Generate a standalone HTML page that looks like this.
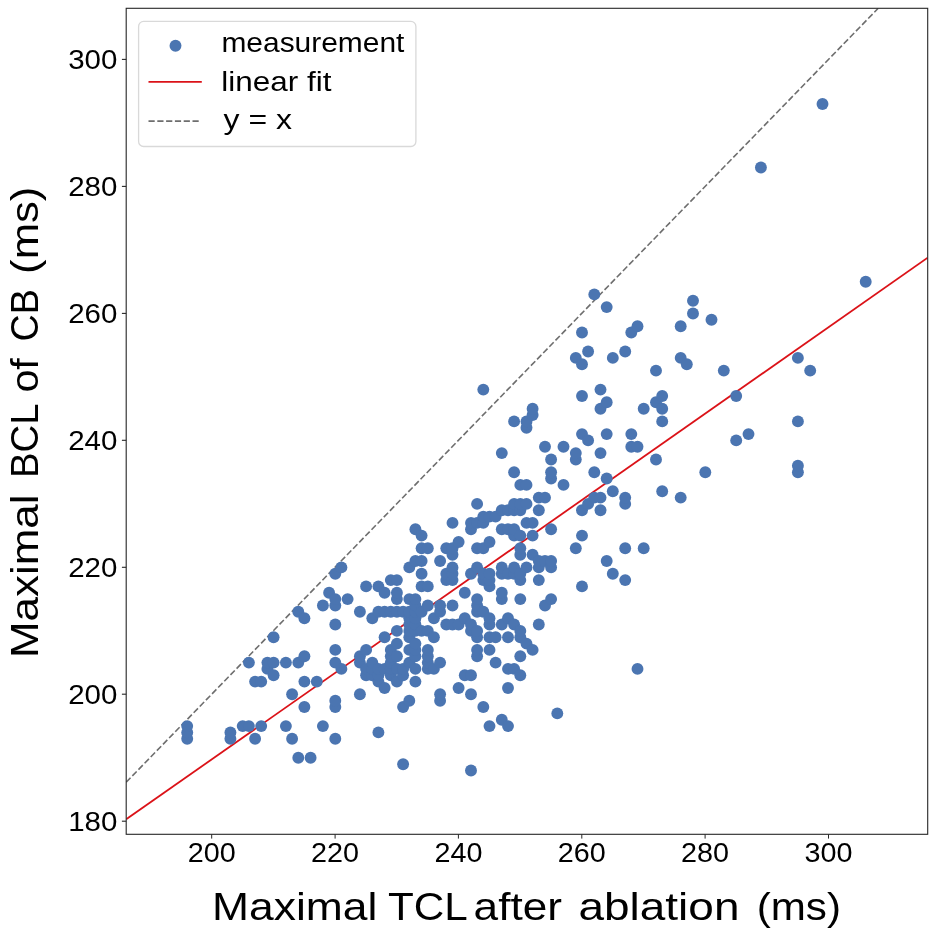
<!DOCTYPE html>
<html><head><meta charset="utf-8"><title>Scatter</title>
<style>html,body{margin:0;padding:0;background:#fff;}svg{display:block;will-change:transform;}text{font-family:"Liberation Sans",sans-serif;fill:#000;}</style>
</head><body>
<svg width="935" height="929" viewBox="0 0 935 929">
<rect x="0" y="0" width="935" height="929" fill="#ffffff"/>
<defs><clipPath id="ax"><rect x="126.2" y="8.3" width="801.5" height="826.0"/></clipPath></defs>
<g clip-path="url(#ax)">
<line x1="126.2" y1="819.3" x2="927.7" y2="257.7" stroke="#db1218" stroke-width="1.8"/>
<line x1="126.2" y1="782.2" x2="878.2" y2="8.3" stroke="#6e6e6e" stroke-width="1.6" stroke-dasharray="6.2 2.6"/>
<g fill="#4b75b1">
<circle cx="187.2" cy="738.8" r="5.95"/>
<circle cx="187.2" cy="732.4" r="5.95"/>
<circle cx="187.2" cy="726.1" r="5.95"/>
<circle cx="230.4" cy="738.8" r="5.95"/>
<circle cx="230.4" cy="732.4" r="5.95"/>
<circle cx="242.7" cy="726.1" r="5.95"/>
<circle cx="248.9" cy="726.1" r="5.95"/>
<circle cx="248.9" cy="662.6" r="5.95"/>
<circle cx="255.1" cy="738.8" r="5.95"/>
<circle cx="255.1" cy="681.6" r="5.95"/>
<circle cx="261.2" cy="726.1" r="5.95"/>
<circle cx="261.2" cy="681.6" r="5.95"/>
<circle cx="267.4" cy="668.9" r="5.95"/>
<circle cx="267.4" cy="662.6" r="5.95"/>
<circle cx="273.6" cy="675.3" r="5.95"/>
<circle cx="273.6" cy="662.6" r="5.95"/>
<circle cx="273.6" cy="637.2" r="5.95"/>
<circle cx="285.9" cy="726.1" r="5.95"/>
<circle cx="285.9" cy="662.6" r="5.95"/>
<circle cx="292.1" cy="738.8" r="5.95"/>
<circle cx="292.1" cy="694.3" r="5.95"/>
<circle cx="298.3" cy="757.8" r="5.95"/>
<circle cx="298.3" cy="662.6" r="5.95"/>
<circle cx="298.3" cy="611.8" r="5.95"/>
<circle cx="304.4" cy="707.0" r="5.95"/>
<circle cx="304.4" cy="681.6" r="5.95"/>
<circle cx="304.4" cy="656.3" r="5.95"/>
<circle cx="304.4" cy="618.2" r="5.95"/>
<circle cx="310.6" cy="757.8" r="5.95"/>
<circle cx="316.8" cy="681.6" r="5.95"/>
<circle cx="322.9" cy="726.1" r="5.95"/>
<circle cx="322.9" cy="605.5" r="5.95"/>
<circle cx="329.1" cy="592.8" r="5.95"/>
<circle cx="335.3" cy="738.8" r="5.95"/>
<circle cx="335.3" cy="707.0" r="5.95"/>
<circle cx="335.3" cy="700.7" r="5.95"/>
<circle cx="335.3" cy="662.6" r="5.95"/>
<circle cx="335.3" cy="649.9" r="5.95"/>
<circle cx="335.3" cy="624.5" r="5.95"/>
<circle cx="335.3" cy="605.5" r="5.95"/>
<circle cx="335.3" cy="599.1" r="5.95"/>
<circle cx="335.3" cy="573.7" r="5.95"/>
<circle cx="341.4" cy="668.9" r="5.95"/>
<circle cx="341.4" cy="567.4" r="5.95"/>
<circle cx="347.6" cy="599.1" r="5.95"/>
<circle cx="359.9" cy="694.3" r="5.95"/>
<circle cx="359.9" cy="662.6" r="5.95"/>
<circle cx="359.9" cy="656.3" r="5.95"/>
<circle cx="359.9" cy="611.8" r="5.95"/>
<circle cx="366.1" cy="675.3" r="5.95"/>
<circle cx="366.1" cy="668.9" r="5.95"/>
<circle cx="366.1" cy="649.9" r="5.95"/>
<circle cx="366.1" cy="586.4" r="5.95"/>
<circle cx="372.3" cy="675.3" r="5.95"/>
<circle cx="372.3" cy="668.9" r="5.95"/>
<circle cx="372.3" cy="662.6" r="5.95"/>
<circle cx="372.3" cy="618.2" r="5.95"/>
<circle cx="378.4" cy="732.4" r="5.95"/>
<circle cx="378.4" cy="681.6" r="5.95"/>
<circle cx="378.4" cy="675.3" r="5.95"/>
<circle cx="378.4" cy="668.9" r="5.95"/>
<circle cx="378.4" cy="611.8" r="5.95"/>
<circle cx="378.4" cy="586.4" r="5.95"/>
<circle cx="384.6" cy="688.0" r="5.95"/>
<circle cx="384.6" cy="668.9" r="5.95"/>
<circle cx="384.6" cy="637.2" r="5.95"/>
<circle cx="384.6" cy="611.8" r="5.95"/>
<circle cx="384.6" cy="592.8" r="5.95"/>
<circle cx="390.8" cy="675.3" r="5.95"/>
<circle cx="390.8" cy="668.9" r="5.95"/>
<circle cx="390.8" cy="662.6" r="5.95"/>
<circle cx="390.8" cy="656.3" r="5.95"/>
<circle cx="390.8" cy="649.9" r="5.95"/>
<circle cx="390.8" cy="611.8" r="5.95"/>
<circle cx="390.8" cy="580.1" r="5.95"/>
<circle cx="396.9" cy="681.6" r="5.95"/>
<circle cx="396.9" cy="668.9" r="5.95"/>
<circle cx="396.9" cy="656.3" r="5.95"/>
<circle cx="396.9" cy="643.6" r="5.95"/>
<circle cx="396.9" cy="630.9" r="5.95"/>
<circle cx="396.9" cy="611.8" r="5.95"/>
<circle cx="396.9" cy="599.1" r="5.95"/>
<circle cx="396.9" cy="592.8" r="5.95"/>
<circle cx="396.9" cy="580.1" r="5.95"/>
<circle cx="403.1" cy="764.2" r="5.95"/>
<circle cx="403.1" cy="707.0" r="5.95"/>
<circle cx="403.1" cy="675.3" r="5.95"/>
<circle cx="403.1" cy="668.9" r="5.95"/>
<circle cx="403.1" cy="611.8" r="5.95"/>
<circle cx="409.3" cy="700.7" r="5.95"/>
<circle cx="409.3" cy="662.6" r="5.95"/>
<circle cx="409.3" cy="649.9" r="5.95"/>
<circle cx="409.3" cy="637.2" r="5.95"/>
<circle cx="409.3" cy="630.9" r="5.95"/>
<circle cx="409.3" cy="624.5" r="5.95"/>
<circle cx="409.3" cy="618.2" r="5.95"/>
<circle cx="409.3" cy="611.8" r="5.95"/>
<circle cx="409.3" cy="599.1" r="5.95"/>
<circle cx="409.3" cy="567.4" r="5.95"/>
<circle cx="415.4" cy="681.6" r="5.95"/>
<circle cx="415.4" cy="668.9" r="5.95"/>
<circle cx="415.4" cy="656.3" r="5.95"/>
<circle cx="415.4" cy="649.9" r="5.95"/>
<circle cx="415.4" cy="643.6" r="5.95"/>
<circle cx="415.4" cy="630.9" r="5.95"/>
<circle cx="415.4" cy="624.5" r="5.95"/>
<circle cx="415.4" cy="618.2" r="5.95"/>
<circle cx="415.4" cy="611.8" r="5.95"/>
<circle cx="415.4" cy="605.5" r="5.95"/>
<circle cx="415.4" cy="599.1" r="5.95"/>
<circle cx="415.4" cy="561.0" r="5.95"/>
<circle cx="415.4" cy="529.3" r="5.95"/>
<circle cx="421.6" cy="630.9" r="5.95"/>
<circle cx="421.6" cy="611.8" r="5.95"/>
<circle cx="421.6" cy="586.4" r="5.95"/>
<circle cx="421.6" cy="573.7" r="5.95"/>
<circle cx="421.6" cy="561.0" r="5.95"/>
<circle cx="421.6" cy="548.3" r="5.95"/>
<circle cx="421.6" cy="535.6" r="5.95"/>
<circle cx="427.8" cy="668.9" r="5.95"/>
<circle cx="427.8" cy="662.6" r="5.95"/>
<circle cx="427.8" cy="656.3" r="5.95"/>
<circle cx="427.8" cy="649.9" r="5.95"/>
<circle cx="427.8" cy="630.9" r="5.95"/>
<circle cx="427.8" cy="605.5" r="5.95"/>
<circle cx="427.8" cy="586.4" r="5.95"/>
<circle cx="427.8" cy="548.3" r="5.95"/>
<circle cx="433.9" cy="668.9" r="5.95"/>
<circle cx="433.9" cy="637.2" r="5.95"/>
<circle cx="433.9" cy="618.2" r="5.95"/>
<circle cx="440.1" cy="700.7" r="5.95"/>
<circle cx="440.1" cy="694.3" r="5.95"/>
<circle cx="440.1" cy="662.6" r="5.95"/>
<circle cx="440.1" cy="611.8" r="5.95"/>
<circle cx="440.1" cy="605.5" r="5.95"/>
<circle cx="440.1" cy="561.0" r="5.95"/>
<circle cx="446.3" cy="624.5" r="5.95"/>
<circle cx="446.3" cy="580.1" r="5.95"/>
<circle cx="446.3" cy="573.7" r="5.95"/>
<circle cx="446.3" cy="548.3" r="5.95"/>
<circle cx="452.5" cy="624.5" r="5.95"/>
<circle cx="452.5" cy="605.5" r="5.95"/>
<circle cx="452.5" cy="580.1" r="5.95"/>
<circle cx="452.5" cy="573.7" r="5.95"/>
<circle cx="452.5" cy="567.4" r="5.95"/>
<circle cx="452.5" cy="554.7" r="5.95"/>
<circle cx="452.5" cy="548.3" r="5.95"/>
<circle cx="452.5" cy="522.9" r="5.95"/>
<circle cx="458.6" cy="688.0" r="5.95"/>
<circle cx="458.6" cy="624.5" r="5.95"/>
<circle cx="458.6" cy="542.0" r="5.95"/>
<circle cx="464.8" cy="675.3" r="5.95"/>
<circle cx="464.8" cy="618.2" r="5.95"/>
<circle cx="464.8" cy="592.8" r="5.95"/>
<circle cx="471.0" cy="770.5" r="5.95"/>
<circle cx="471.0" cy="694.3" r="5.95"/>
<circle cx="471.0" cy="675.3" r="5.95"/>
<circle cx="471.0" cy="630.9" r="5.95"/>
<circle cx="471.0" cy="624.5" r="5.95"/>
<circle cx="471.0" cy="573.7" r="5.95"/>
<circle cx="471.0" cy="529.3" r="5.95"/>
<circle cx="471.0" cy="522.9" r="5.95"/>
<circle cx="477.1" cy="656.3" r="5.95"/>
<circle cx="477.1" cy="649.9" r="5.95"/>
<circle cx="477.1" cy="637.2" r="5.95"/>
<circle cx="477.1" cy="630.9" r="5.95"/>
<circle cx="477.1" cy="611.8" r="5.95"/>
<circle cx="477.1" cy="605.5" r="5.95"/>
<circle cx="477.1" cy="599.1" r="5.95"/>
<circle cx="477.1" cy="567.4" r="5.95"/>
<circle cx="477.1" cy="548.3" r="5.95"/>
<circle cx="477.1" cy="522.9" r="5.95"/>
<circle cx="477.1" cy="503.9" r="5.95"/>
<circle cx="483.3" cy="707.0" r="5.95"/>
<circle cx="483.3" cy="611.8" r="5.95"/>
<circle cx="483.3" cy="580.1" r="5.95"/>
<circle cx="483.3" cy="573.7" r="5.95"/>
<circle cx="483.3" cy="548.3" r="5.95"/>
<circle cx="483.3" cy="522.9" r="5.95"/>
<circle cx="483.3" cy="516.6" r="5.95"/>
<circle cx="483.3" cy="389.6" r="5.95"/>
<circle cx="489.5" cy="726.1" r="5.95"/>
<circle cx="489.5" cy="649.9" r="5.95"/>
<circle cx="489.5" cy="637.2" r="5.95"/>
<circle cx="489.5" cy="624.5" r="5.95"/>
<circle cx="489.5" cy="618.2" r="5.95"/>
<circle cx="489.5" cy="586.4" r="5.95"/>
<circle cx="489.5" cy="580.1" r="5.95"/>
<circle cx="489.5" cy="573.7" r="5.95"/>
<circle cx="489.5" cy="542.0" r="5.95"/>
<circle cx="489.5" cy="516.6" r="5.95"/>
<circle cx="495.6" cy="662.6" r="5.95"/>
<circle cx="495.6" cy="637.2" r="5.95"/>
<circle cx="495.6" cy="516.6" r="5.95"/>
<circle cx="501.8" cy="719.7" r="5.95"/>
<circle cx="501.8" cy="624.5" r="5.95"/>
<circle cx="501.8" cy="599.1" r="5.95"/>
<circle cx="501.8" cy="592.8" r="5.95"/>
<circle cx="501.8" cy="573.7" r="5.95"/>
<circle cx="501.8" cy="567.4" r="5.95"/>
<circle cx="501.8" cy="529.3" r="5.95"/>
<circle cx="501.8" cy="510.2" r="5.95"/>
<circle cx="501.8" cy="453.1" r="5.95"/>
<circle cx="508.0" cy="726.1" r="5.95"/>
<circle cx="508.0" cy="688.0" r="5.95"/>
<circle cx="508.0" cy="668.9" r="5.95"/>
<circle cx="508.0" cy="637.2" r="5.95"/>
<circle cx="508.0" cy="618.2" r="5.95"/>
<circle cx="508.0" cy="573.7" r="5.95"/>
<circle cx="508.0" cy="529.3" r="5.95"/>
<circle cx="508.0" cy="510.2" r="5.95"/>
<circle cx="514.1" cy="668.9" r="5.95"/>
<circle cx="514.1" cy="624.5" r="5.95"/>
<circle cx="514.1" cy="573.7" r="5.95"/>
<circle cx="514.1" cy="567.4" r="5.95"/>
<circle cx="514.1" cy="535.6" r="5.95"/>
<circle cx="514.1" cy="529.3" r="5.95"/>
<circle cx="514.1" cy="510.2" r="5.95"/>
<circle cx="514.1" cy="503.9" r="5.95"/>
<circle cx="514.1" cy="472.2" r="5.95"/>
<circle cx="514.1" cy="421.4" r="5.95"/>
<circle cx="520.3" cy="675.3" r="5.95"/>
<circle cx="520.3" cy="656.3" r="5.95"/>
<circle cx="520.3" cy="637.2" r="5.95"/>
<circle cx="520.3" cy="630.9" r="5.95"/>
<circle cx="520.3" cy="599.1" r="5.95"/>
<circle cx="520.3" cy="580.1" r="5.95"/>
<circle cx="520.3" cy="573.7" r="5.95"/>
<circle cx="520.3" cy="554.7" r="5.95"/>
<circle cx="520.3" cy="548.3" r="5.95"/>
<circle cx="520.3" cy="535.6" r="5.95"/>
<circle cx="520.3" cy="510.2" r="5.95"/>
<circle cx="520.3" cy="503.9" r="5.95"/>
<circle cx="520.3" cy="484.9" r="5.95"/>
<circle cx="526.5" cy="643.6" r="5.95"/>
<circle cx="526.5" cy="567.4" r="5.95"/>
<circle cx="526.5" cy="522.9" r="5.95"/>
<circle cx="526.5" cy="503.9" r="5.95"/>
<circle cx="526.5" cy="484.9" r="5.95"/>
<circle cx="526.5" cy="427.7" r="5.95"/>
<circle cx="526.5" cy="421.4" r="5.95"/>
<circle cx="532.6" cy="649.9" r="5.95"/>
<circle cx="532.6" cy="554.7" r="5.95"/>
<circle cx="532.6" cy="535.6" r="5.95"/>
<circle cx="532.6" cy="522.9" r="5.95"/>
<circle cx="532.6" cy="415.0" r="5.95"/>
<circle cx="532.6" cy="408.7" r="5.95"/>
<circle cx="538.8" cy="624.5" r="5.95"/>
<circle cx="538.8" cy="580.1" r="5.95"/>
<circle cx="538.8" cy="567.4" r="5.95"/>
<circle cx="538.8" cy="561.0" r="5.95"/>
<circle cx="538.8" cy="510.2" r="5.95"/>
<circle cx="538.8" cy="497.6" r="5.95"/>
<circle cx="545.0" cy="605.5" r="5.95"/>
<circle cx="545.0" cy="561.0" r="5.95"/>
<circle cx="545.0" cy="497.6" r="5.95"/>
<circle cx="545.0" cy="446.8" r="5.95"/>
<circle cx="551.1" cy="599.1" r="5.95"/>
<circle cx="551.1" cy="567.4" r="5.95"/>
<circle cx="551.1" cy="561.0" r="5.95"/>
<circle cx="551.1" cy="529.3" r="5.95"/>
<circle cx="551.1" cy="478.5" r="5.95"/>
<circle cx="551.1" cy="472.2" r="5.95"/>
<circle cx="551.1" cy="459.5" r="5.95"/>
<circle cx="557.3" cy="713.4" r="5.95"/>
<circle cx="563.5" cy="484.9" r="5.95"/>
<circle cx="563.5" cy="446.8" r="5.95"/>
<circle cx="575.8" cy="548.3" r="5.95"/>
<circle cx="575.8" cy="459.5" r="5.95"/>
<circle cx="575.8" cy="453.1" r="5.95"/>
<circle cx="575.8" cy="357.9" r="5.95"/>
<circle cx="582.0" cy="586.4" r="5.95"/>
<circle cx="582.0" cy="535.6" r="5.95"/>
<circle cx="582.0" cy="510.2" r="5.95"/>
<circle cx="582.0" cy="434.1" r="5.95"/>
<circle cx="582.0" cy="396.0" r="5.95"/>
<circle cx="582.0" cy="364.2" r="5.95"/>
<circle cx="582.0" cy="332.5" r="5.95"/>
<circle cx="588.1" cy="503.9" r="5.95"/>
<circle cx="588.1" cy="440.4" r="5.95"/>
<circle cx="588.1" cy="351.5" r="5.95"/>
<circle cx="594.3" cy="497.6" r="5.95"/>
<circle cx="594.3" cy="472.2" r="5.95"/>
<circle cx="594.3" cy="294.4" r="5.95"/>
<circle cx="600.5" cy="510.2" r="5.95"/>
<circle cx="600.5" cy="497.6" r="5.95"/>
<circle cx="600.5" cy="453.1" r="5.95"/>
<circle cx="600.5" cy="408.7" r="5.95"/>
<circle cx="600.5" cy="389.6" r="5.95"/>
<circle cx="606.7" cy="561.0" r="5.95"/>
<circle cx="606.7" cy="478.5" r="5.95"/>
<circle cx="606.7" cy="434.1" r="5.95"/>
<circle cx="606.7" cy="402.3" r="5.95"/>
<circle cx="606.7" cy="307.1" r="5.95"/>
<circle cx="612.8" cy="573.7" r="5.95"/>
<circle cx="612.8" cy="491.2" r="5.95"/>
<circle cx="612.8" cy="357.9" r="5.95"/>
<circle cx="625.2" cy="580.1" r="5.95"/>
<circle cx="625.2" cy="548.3" r="5.95"/>
<circle cx="625.2" cy="503.9" r="5.95"/>
<circle cx="625.2" cy="497.6" r="5.95"/>
<circle cx="625.2" cy="351.5" r="5.95"/>
<circle cx="631.3" cy="446.8" r="5.95"/>
<circle cx="631.3" cy="434.1" r="5.95"/>
<circle cx="631.3" cy="332.5" r="5.95"/>
<circle cx="637.5" cy="668.9" r="5.95"/>
<circle cx="637.5" cy="446.8" r="5.95"/>
<circle cx="637.5" cy="326.2" r="5.95"/>
<circle cx="643.7" cy="548.3" r="5.95"/>
<circle cx="643.7" cy="408.7" r="5.95"/>
<circle cx="656.0" cy="459.5" r="5.95"/>
<circle cx="656.0" cy="402.3" r="5.95"/>
<circle cx="656.0" cy="370.6" r="5.95"/>
<circle cx="662.2" cy="491.2" r="5.95"/>
<circle cx="662.2" cy="421.4" r="5.95"/>
<circle cx="662.2" cy="408.7" r="5.95"/>
<circle cx="662.2" cy="396.0" r="5.95"/>
<circle cx="680.7" cy="497.6" r="5.95"/>
<circle cx="680.7" cy="357.9" r="5.95"/>
<circle cx="680.7" cy="326.2" r="5.95"/>
<circle cx="686.8" cy="364.2" r="5.95"/>
<circle cx="693.0" cy="313.5" r="5.95"/>
<circle cx="693.0" cy="300.8" r="5.95"/>
<circle cx="705.3" cy="472.2" r="5.95"/>
<circle cx="711.5" cy="319.8" r="5.95"/>
<circle cx="723.8" cy="370.6" r="5.95"/>
<circle cx="736.2" cy="440.4" r="5.95"/>
<circle cx="736.2" cy="396.0" r="5.95"/>
<circle cx="748.5" cy="434.1" r="5.95"/>
<circle cx="760.9" cy="167.5" r="5.95"/>
<circle cx="797.9" cy="472.2" r="5.95"/>
<circle cx="797.9" cy="465.8" r="5.95"/>
<circle cx="797.9" cy="421.4" r="5.95"/>
<circle cx="797.9" cy="357.9" r="5.95"/>
<circle cx="810.2" cy="370.6" r="5.95"/>
<circle cx="822.5" cy="104.0" r="5.95"/>
<circle cx="865.7" cy="281.7" r="5.95"/>
</g>
</g>
<rect x="126.2" y="8.3" width="801.5" height="826.0" fill="none" stroke="#262626" stroke-width="1.1"/>
<line x1="211.7" y1="834.3" x2="211.7" y2="838.5999999999999" stroke="#262626" stroke-width="1.0"/>
<text x="211.7" y="861.8" font-size="27.2" text-anchor="middle" textLength="48" lengthAdjust="spacingAndGlyphs">200</text>
<line x1="335.1" y1="834.3" x2="335.1" y2="838.5999999999999" stroke="#262626" stroke-width="1.0"/>
<text x="335.1" y="861.8" font-size="27.2" text-anchor="middle" textLength="48" lengthAdjust="spacingAndGlyphs">220</text>
<line x1="458.4" y1="834.3" x2="458.4" y2="838.5999999999999" stroke="#262626" stroke-width="1.0"/>
<text x="458.4" y="861.8" font-size="27.2" text-anchor="middle" textLength="48" lengthAdjust="spacingAndGlyphs">240</text>
<line x1="581.8" y1="834.3" x2="581.8" y2="838.5999999999999" stroke="#262626" stroke-width="1.0"/>
<text x="581.8" y="861.8" font-size="27.2" text-anchor="middle" textLength="48" lengthAdjust="spacingAndGlyphs">260</text>
<line x1="705.1" y1="834.3" x2="705.1" y2="838.5999999999999" stroke="#262626" stroke-width="1.0"/>
<text x="705.1" y="861.8" font-size="27.2" text-anchor="middle" textLength="48" lengthAdjust="spacingAndGlyphs">280</text>
<line x1="828.5" y1="834.3" x2="828.5" y2="838.5999999999999" stroke="#262626" stroke-width="1.0"/>
<text x="828.5" y="861.8" font-size="27.2" text-anchor="middle" textLength="48" lengthAdjust="spacingAndGlyphs">300</text>
<line x1="121.9" y1="821.2" x2="126.2" y2="821.2" stroke="#262626" stroke-width="1.1"/>
<text x="117.4" y="830.7" font-size="27.2" text-anchor="end" textLength="49.2" lengthAdjust="spacingAndGlyphs">180</text>
<line x1="121.9" y1="694.2" x2="126.2" y2="694.2" stroke="#262626" stroke-width="1.1"/>
<text x="117.4" y="703.7" font-size="27.2" text-anchor="end" textLength="49.2" lengthAdjust="spacingAndGlyphs">200</text>
<line x1="121.9" y1="567.3" x2="126.2" y2="567.3" stroke="#262626" stroke-width="1.1"/>
<text x="117.4" y="576.8" font-size="27.2" text-anchor="end" textLength="49.2" lengthAdjust="spacingAndGlyphs">220</text>
<line x1="121.9" y1="440.3" x2="126.2" y2="440.3" stroke="#262626" stroke-width="1.1"/>
<text x="117.4" y="449.8" font-size="27.2" text-anchor="end" textLength="49.2" lengthAdjust="spacingAndGlyphs">240</text>
<line x1="121.9" y1="313.4" x2="126.2" y2="313.4" stroke="#262626" stroke-width="1.1"/>
<text x="117.4" y="322.9" font-size="27.2" text-anchor="end" textLength="49.2" lengthAdjust="spacingAndGlyphs">260</text>
<line x1="121.9" y1="186.4" x2="126.2" y2="186.4" stroke="#262626" stroke-width="1.1"/>
<text x="117.4" y="195.9" font-size="27.2" text-anchor="end" textLength="49.2" lengthAdjust="spacingAndGlyphs">280</text>
<line x1="121.9" y1="59.4" x2="126.2" y2="59.4" stroke="#262626" stroke-width="1.1"/>
<text x="117.4" y="68.9" font-size="27.2" text-anchor="end" textLength="49.2" lengthAdjust="spacingAndGlyphs">300</text>
<text x="212.03" y="919.6" font-size="39.5" textLength="165.40" lengthAdjust="spacingAndGlyphs">Maximal</text>
<text x="387.93" y="919.6" font-size="39.5" textLength="79.81" lengthAdjust="spacingAndGlyphs">TCL</text>
<text x="473.56" y="919.6" font-size="39.5" textLength="88.49" lengthAdjust="spacingAndGlyphs">after</text>
<text x="578.47" y="919.6" font-size="39.5" textLength="160.99" lengthAdjust="spacingAndGlyphs">ablation</text>
<text x="756.66" y="919.6" font-size="39.5" textLength="84.30" lengthAdjust="spacingAndGlyphs">(ms)</text>
<g transform="translate(37.8,0) rotate(-90)">
<text x="-658.03" y="0" font-size="39.6" textLength="163.53" lengthAdjust="spacingAndGlyphs">Maximal</text>
<text x="-478.11" y="0" font-size="39.6" textLength="74.57" lengthAdjust="spacingAndGlyphs">BCL</text>
<text x="-392.58" y="0" font-size="39.6" textLength="34.40" lengthAdjust="spacingAndGlyphs">of</text>
<text x="-341.61" y="0" font-size="39.6" textLength="52.40" lengthAdjust="spacingAndGlyphs">CB</text>
<text x="-273.91" y="0" font-size="39.6" textLength="87.25" lengthAdjust="spacingAndGlyphs">(ms)</text>
</g>
<rect x="138.6" y="21.4" width="277.3" height="125.1" rx="5" ry="5" fill="#ffffff" fill-opacity="0.8" stroke="#d9d9d9" stroke-width="1.3"/>
<circle cx="175.5" cy="45.8" r="5.95" fill="#4b75b1"/>
<line x1="148.5" y1="81.9" x2="201.8" y2="81.9" stroke="#db1218" stroke-width="1.8"/>
<line x1="148.5" y1="121.1" x2="200.2" y2="121.1" stroke="#6e6e6e" stroke-width="1.6" stroke-dasharray="6.2 2.6"/>
<text x="221.42" y="52.1" font-size="27.5" textLength="183.03" lengthAdjust="spacingAndGlyphs">measurement</text>
<text x="221.31" y="90.7" font-size="27.5" textLength="110.13" lengthAdjust="spacingAndGlyphs">linear fit</text>
<text x="223.60" y="129.2" font-size="27.5" textLength="68.38" lengthAdjust="spacingAndGlyphs">y = x</text>
</svg>
</body></html>
